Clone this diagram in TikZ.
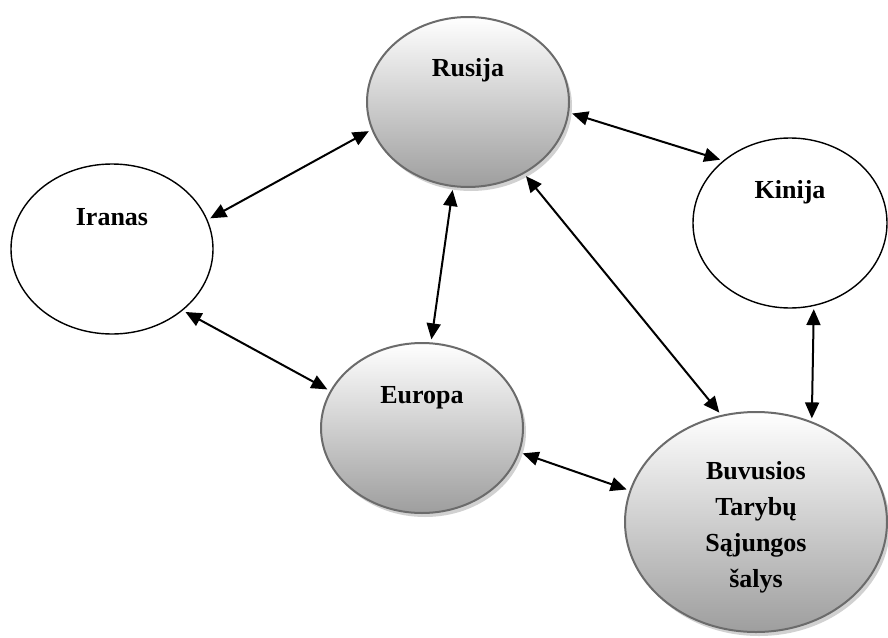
\documentclass[tikz,border=0pt]{standalone}
\usepackage{fontspec}
\setmainfont{Liberation Serif}
\usetikzlibrary{arrows.meta,shapes.geometric,shadows}
\begin{document}
\begin{tikzpicture}[x=1pt,y=-1pt,
  every label/.style={font=\fontsize{26}{36}\selectfont\bfseries, align=center, inner sep=0pt},
  plainoval/.style={ellipse, draw=black, line width=1.4pt, fill=white, inner sep=0pt,
    minimum width=202pt, minimum height=170pt},
  shadedoval/.style={ellipse, draw=black!58, line width=2pt, inner sep=0pt,
    minimum width=202pt, minimum height=170pt,
    top color=white, middle color=black!10, bottom color=black!38,
    drop shadow={shadow xshift=3pt, shadow yshift=-4pt, fill=black!30, opacity=0.6}},
  link/.style={line width=2pt, {Triangle[length=16pt,width=14pt]}-{Triangle[length=16pt,width=14pt]},
    shorten <=3pt, shorten >=3pt}]
\useasboundingbox (0,0) rectangle (888,637);

% country ellipses
\node[shadedoval, label={[yshift=32pt]center:Rusija}] (rus) at (468,102) {};
\node[plainoval, label={[yshift=32pt]center:Iranas}] (iran) at (112,249) {};
\node[plainoval, minimum width=194pt, label={[yshift=31pt]center:Kinija}] (kin) at (790,223) {};
\node[shadedoval, label={[yshift=30pt]center:Europa}] (eur) at (422,428) {};
\node[shadedoval, minimum width=262pt, minimum height=220pt,
  label={[yshift=-5pt]center:Buvusios\\Tarybų\\Sąjungos\\šalys}] (fsu) at (756,522) {};

% two-way relations
\draw[link] (iran.17.6) -- (rus.196.2);
\draw[link] (rus.354.4) -- (kin.137.3);
\draw[link] (rus.260) -- (eur.84);
\draw[link] (rus.308.8) -- (fsu.108.7);
\draw[link] (kin.286.4) -- (fsu.61.2);
\draw[link] (iran.319.9) -- (eur.158);
\draw[link] (eur.346.4) -- (fsu.166);
\end{tikzpicture}
\end{document}
